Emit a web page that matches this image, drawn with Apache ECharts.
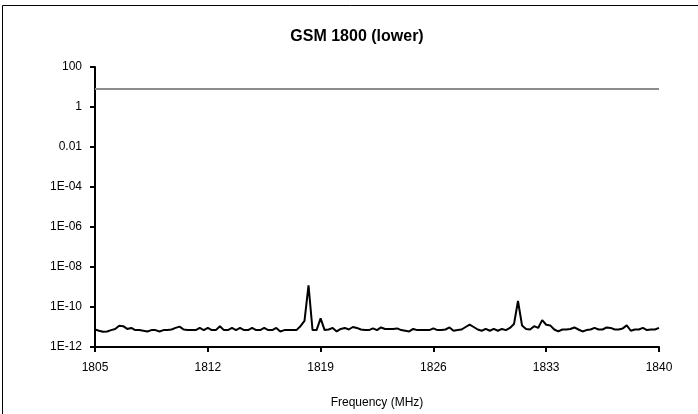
<!DOCTYPE html>
<html>
<head>
<meta charset="utf-8">
<script src="https://cdn.jsdelivr.net/npm/echarts@6/dist/echarts.min.js"></script>
<style>
html,body{margin:0;padding:0;background:#fff;}
#c{width:698px;height:414px;}
</style>
</head>
<body>
<div id="c"></div>
<script>
var freqs = [
1805.00,1805.25,1805.50,1805.75,1806.00,1806.25,1806.50,1806.75,1807.00,1807.25,
1807.50,1807.75,1808.00,1808.25,1808.50,1808.75,1809.00,1809.25,1809.50,1809.75,
1810.00,1810.25,1810.50,1810.75,1811.00,1811.25,1811.50,1811.75,1812.00,1812.25,
1812.50,1812.75,1813.00,1813.25,1813.50,1813.75,1814.00,1814.25,1814.50,1814.75,
1815.00,1815.25,1815.50,1815.75,1816.00,1816.25,1816.50,1816.75,1817.00,1817.25,
1817.50,1817.75,1818.00,1818.25,1818.50,1818.75,1819.00,1819.25,1819.50,1819.75,
1820.00,1820.25,1820.50,1820.75,1821.00,1821.25,1821.50,1821.75,1822.00,1822.25,
1822.50,1822.75,1823.00,1823.25,1823.50,1823.75,1824.00,1824.25,1824.50,1824.75,
1825.00,1825.25,1825.50,1825.75,1826.00,1826.25,1826.50,1826.75,1827.00,1827.25,
1827.50,1827.75,1828.00,1828.25,1828.50,1828.75,1829.00,1829.25,1829.50,1829.75,
1830.00,1830.25,1830.50,1830.75,1831.00,1831.25,1831.50,1831.75,1832.00,1832.25,
1832.50,1832.75,1833.00,1833.25,1833.50,1833.75,1834.00,1834.25,1834.50,1834.75,
1835.00,1835.25,1835.50,1835.75,1836.00,1836.25,1836.50,1836.75,1837.00,1837.25,
1837.50,1837.75,1838.00,1838.25,1838.50,1838.75,1839.00,1839.25,1839.50,1839.75,
1840.00
];
var measured = [
7.5e-12,6.5e-12,5.8e-12,6e-12,7e-12,8e-12,1.15e-11,1.1e-11,8e-12,9e-12,
7e-12,7e-12,6.5e-12,6e-12,7e-12,7e-12,6e-12,7e-12,7e-12,7.5e-12,
9e-12,1.05e-11,7.5e-12,7e-12,7e-12,7e-12,9e-12,7e-12,9e-12,7e-12,
7e-12,1.1e-11,7e-12,7e-12,9e-12,7e-12,9e-12,7e-12,7e-12,9e-12,
7e-12,7e-12,9e-12,7e-12,7e-12,9e-12,6e-12,7e-12,7e-12,7e-12,
7e-12,1.1e-11,2e-11,1.2e-9,7e-12,7e-12,2.7e-11,7e-12,7.5e-12,9e-12,
6e-12,8e-12,9e-12,7.5e-12,1e-11,9e-12,7.5e-12,7e-12,7e-12,8.5e-12,
7e-12,9.5e-12,8e-12,8e-12,8e-12,8.5e-12,7e-12,6.5e-12,6e-12,8e-12,
7e-12,7e-12,7e-12,7e-12,8.5e-12,7e-12,7e-12,7.5e-12,9.5e-12,6.5e-12,
7e-12,7.5e-12,1e-11,1.3e-11,1e-11,7.5e-12,6.5e-12,8e-12,6.5e-12,8e-12,
6.5e-12,8e-12,7e-12,9e-12,1.4e-11,2e-10,1.2e-11,8e-12,7.5e-12,1.1e-11,
9e-12,2.2e-11,1.3e-11,1.2e-11,7.5e-12,6e-12,7.5e-12,7.5e-12,8e-12,9.5e-12,
7.5e-12,6e-12,7e-12,7.5e-12,9e-12,7.5e-12,7.5e-12,9.5e-12,9e-12,7.5e-12,
7.5e-12,8.5e-12,1.2e-11,6.5e-12,7.5e-12,7.5e-12,9e-12,7e-12,7.5e-12,7.5e-12,
9e-12
];
var limitFreqs = [1805, 1840];
var limitValues = [8, 8];
var xTicks = [1805, 1812, 1819, 1826, 1833, 1840];

var chart = echarts.init(document.getElementById('c'), null, {renderer: 'canvas'});
var font = 'Liberation Sans, Arial, sans-serif';

function yLabel(v) {
  var e = Math.round(Math.log10(v));
  if (e === 2) return '100';
  if (e === 0) return '1';
  if (e === -2) return '0.01';
  var a = Math.abs(e);
  return '1E' + (e < 0 ? '-' : '+') + (a < 10 ? '0' + a : '' + a);
}

chart.setOption({
  animation: false,
  backgroundColor: '#fff',
  title: {
    text: 'GSM 1800 (lower)',
    left: 352, top: 24, textAlign: 'center',
    textStyle: {fontFamily: font, fontSize: 16, fontWeight: 'bold', color: '#000'}
  },
  grid: {left: 95, right: 39, top: 67, bottom: 66},
  xAxis: {
    type: 'value', min: 1805, max: 1840, interval: 7,
    name: 'Frequency (MHz)', nameLocation: 'middle', nameGap: 50,
    nameTextStyle: {fontFamily: font, fontSize: 12, color: '#000'},
    axisLine: {show: true, lineStyle: {color: '#000', width: 2}},
    axisTick: {show: true, length: 5, lineStyle: {color: '#000', width: 2}},
    axisLabel: {fontFamily: font, fontSize: 12, color: '#000', margin: 15,
      formatter: function (v) { return xTicks.indexOf(v) >= 0 ? String(v) : ''; }},
    splitLine: {show: false}
  },
  yAxis: {
    type: 'log', logBase: 10, min: 1e-12, max: 100, interval: 2,
    axisLine: {show: true, lineStyle: {color: '#000', width: 2}},
    axisTick: {show: true, length: 5, lineStyle: {color: '#000', width: 2}},
    axisLabel: {fontFamily: font, fontSize: 12, color: '#000', margin: 13, formatter: yLabel},
    splitLine: {show: false},
    minorTick: {show: false}
  },
  series: [
    {
      type: 'line', name: 'limit',
      data: limitFreqs.map(function (f, i) { return [f, limitValues[i]]; }),
      symbol: 'none', lineStyle: {color: '#8c8c8c', width: 2}, z: 2
    },
    {
      type: 'line', name: 'measured',
      data: freqs.map(function (f, i) { return [f, measured[i]]; }),
      symbol: 'none', lineStyle: {color: '#000', width: 2}, z: 3
    }
  ],
  graphic: [
    {type: 'rect', shape: {x: 2.5, y: 5.5, width: 720, height: 440},
     style: {fill: 'none', stroke: '#000', lineWidth: 1}, silent: true}
  ]
});
</script>
</body>
</html>
